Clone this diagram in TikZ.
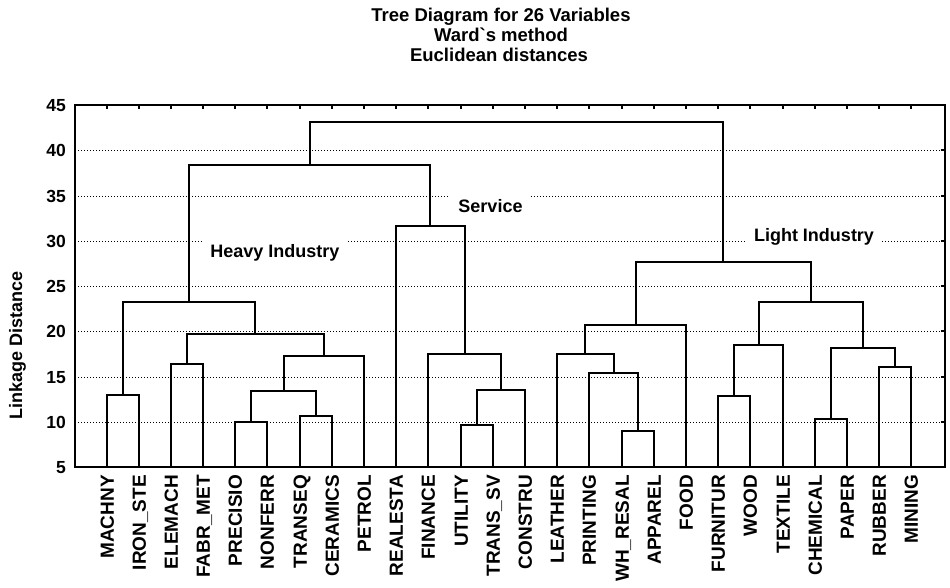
\documentclass[tikz,border=0pt]{standalone}
\usepackage{fontspec}
\setmainfont{Liberation Sans}
\usetikzlibrary{calc}
\newcommand\dmerge[4]{%
  \coordinate (#1h) at (0,{Y(#4)});
  \coordinate (#1t) at ($(#2)!0.5!(#3)$);
  \coordinate (#1) at (#1t |- #1h);
  \draw[dendro] (#2) |- (#1) -| (#3);
}
\begin{document}
\begin{tikzpicture}[x=1pt,y=-1pt,
  declare function={Y(\v)=round(105+(45-\v)*9.05); X(\n)=round(106.5+32.2*\n);},
  dendro/.style={line width=2pt, line join=miter},
  gridln/.style={line width=0.8pt, dash pattern=on 1pt off 2pt},
  frameln/.style={line width=1.6pt},
  ticklab/.style={font=\bfseries\fontsize{17.5}{19}\selectfont, anchor=east, inner sep=0pt, text height=12.5pt, text depth=0pt},
  leaflab/.style={font=\bfseries\fontsize{19}{21}\selectfont, rotate=90, anchor=east, inner sep=0pt, text height=13.6pt, text depth=0pt},
  grouplab/.style={font=\bfseries\fontsize{18}{20}\selectfont, fill=white, inner xsep=8pt, inner ysep=6pt, text height=12.9pt, text depth=0pt},
  titlelab/.style={font=\bfseries\fontsize{18.5}{20}\selectfont, inner sep=0pt, text height=13.2pt, text depth=0pt},
  axlab/.style={font=\bfseries\fontsize{18}{20}\selectfont, rotate=90, inner sep=0pt}
]
\useasboundingbox (0,0) rectangle (950,587);
% titles
\node[titlelab] (t1) at (501,15) {Tree Diagram for 26 Variables};
\node[titlelab] (t2) at (501,35) {Ward\textasciigrave s method};
\node[titlelab] (t3) at (499,55) {Euclidean distances};
% grid
\foreach \v in {10,15,...,40} \draw[gridln] (75,{Y(\v)}) -- (945,{Y(\v)});
% group labels
\node[grouplab] (gheavy) at (275,251) {Heavy Industry};
\node[grouplab] (gserv) at (490.5,206) {Service};
\node[grouplab] (glight) at (814,235) {Light Industry};
% leaves
\foreach \i in {0,...,25} \coordinate (l\i) at ({X(\i)},{Y(5)});
% merges
\dmerge{m1}{l0}{l1}{13.0}
\dmerge{m2}{l2}{l3}{16.4}
\dmerge{m3}{l4}{l5}{10.0}
\dmerge{m4}{l6}{l7}{10.6}
\dmerge{m5}{m3}{m4}{13.4}
\dmerge{m6}{m5}{l8}{17.3}
\dmerge{m7}{m2}{m6}{19.7}
\dmerge{m8}{m1}{m7}{23.2}
\dmerge{m9}{l11}{l12}{9.6}
\dmerge{m10}{m9}{l13}{13.5}
\dmerge{m11}{l10}{m10}{17.5}
\dmerge{m12}{l9}{m11}{31.6}
\dmerge{m13}{m8}{m12}{38.4}
\dmerge{m14}{l16}{l17}{9.0}
\dmerge{m15}{l15}{m14}{15.4}
\dmerge{m16}{l14}{m15}{17.5}
\dmerge{m17}{m16}{l18}{20.7}
\dmerge{m18}{l19}{l20}{12.8}
\dmerge{m19}{m18}{l21}{18.5}
\dmerge{m20}{l22}{l23}{10.3}
\dmerge{m21}{l24}{l25}{16.1}
\dmerge{m22}{m20}{m21}{18.2}
\dmerge{m23}{m19}{m22}{23.2}
\dmerge{m24}{m17}{m23}{27.6}
\dmerge{root}{m13}{m24}{43.1}
% frame and ticks
\draw[frameln] (75,105) rectangle (945,467);
\foreach \i in {0,...,25} \draw[frameln] ({X(\i)},105) -- ++(0,4);
\foreach \v in {10,15,...,40} \draw[frameln] (945,{Y(\v)}) -- ++(-4,0);
% tick labels
\foreach \v in {5,10,...,45} \node[ticklab] (tk\v) at (66,{Y(\v)}) {\v};
\node[axlab] (ylab) at (17.5,345.5) {Linkage Distance};
% leaf labels
\foreach \nm [count=\i from 0] in {MACHNY,IRON\_STE,ELEMACH,FABR\_MET,PRECISIO,NONFERR,TRANSEQ,CERAMICS,PETROL,REALESTA,FINANCE,UTILITY,TRANS\_SV,CONSTRU,LEATHER,PRINTING,WH\_RESAL,APPAREL,FOOD,FURNITUR,WOOD,TEXTILE,CHEMICAL,PAPER,RUBBER,MINING}
  \node[leaflab] (lab\i) at ({X(\i)},475) {\nm};
\end{tikzpicture}
\end{document}
